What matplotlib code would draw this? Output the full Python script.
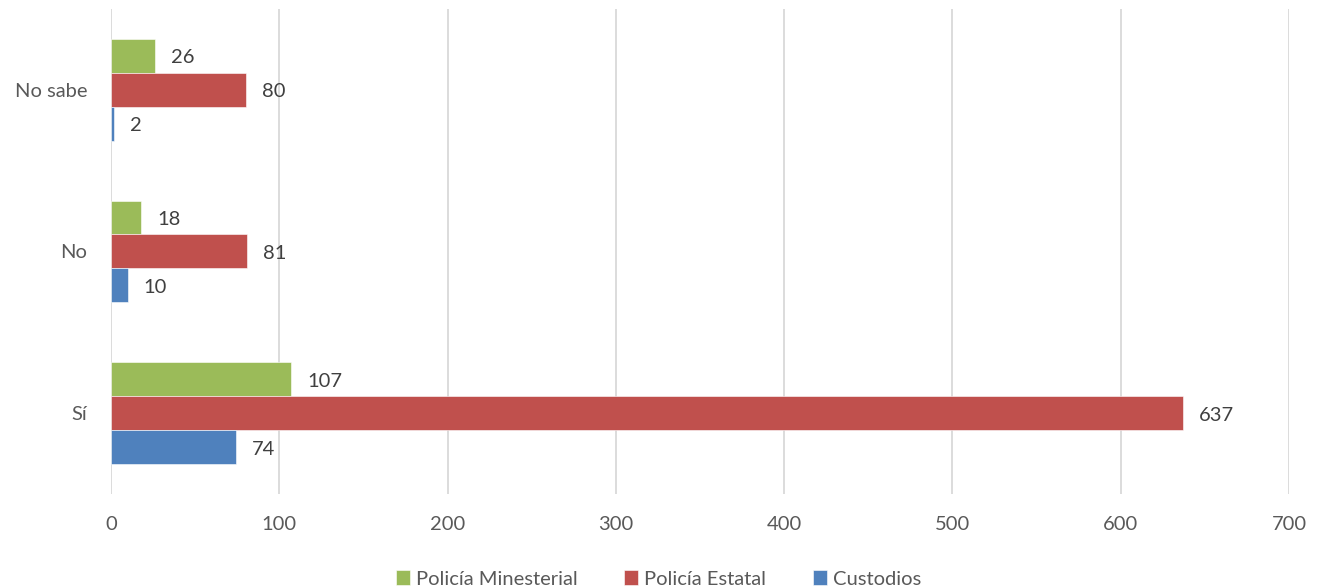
import matplotlib.pyplot as plt
import numpy as np

plt.rcParams['font.family'] = ['Lato', 'DejaVu Sans']

categorias = ['Sí', 'No', 'No sabe']
ministerial = [107, 18, 26]
estatal = [637, 81, 80]
custodios = [74, 10, 2]
series = ['Policía Minesterial', 'Policía Estatal', 'Custodios']
colores = ['#9BBB59', '#C0504D', '#4F81BD']
texto = '#595959'

fig = plt.figure(figsize=(13.17, 5.88), dpi=100)
ax = fig.add_axes([0.0843, 0.16, 0.8944, 0.8247])

y = np.arange(len(categorias))
h = 0.21
for vals, off, col, nombre in zip([ministerial, estatal, custodios], [h, 0, -h], colores, series):
    bars = ax.barh(y + off, vals, height=h, color=col, label=nombre,
                   edgecolor='white', linewidth=0.4, zorder=3)
    for b, v in zip(bars, vals):
        ax.annotate(str(v), (b.get_width(), b.get_y() + b.get_height() / 2),
                    xytext=(11.5, -1.5), textcoords='offset points',
                    va='center', ha='left', fontsize=14.5, color='#404040')

ax.set_xlim(0, 700)
ax.set_ylim(-0.5, 2.5)
ax.set_xticks(range(0, 701, 100))
ax.set_yticks(y)
ax.set_yticklabels(categorias)
ax.tick_params(length=0, labelsize=14.5, colors=texto)
ax.tick_params(axis='x', pad=16)
ax.tick_params(axis='y', pad=17)
ax.grid(axis='x', color='#d9d9d9', linewidth=1.3, zorder=0)
for s in ax.spines.values():
    s.set_visible(False)

fig.legend(loc='lower center', ncol=3, frameon=False, bbox_to_anchor=(0.5, -0.03),
           fontsize=14.5, labelcolor=texto, handlelength=0.7, handleheight=0.7,
           handletextpad=0.3, columnspacing=2.3)

fig.savefig('out.png', dpi=100)
